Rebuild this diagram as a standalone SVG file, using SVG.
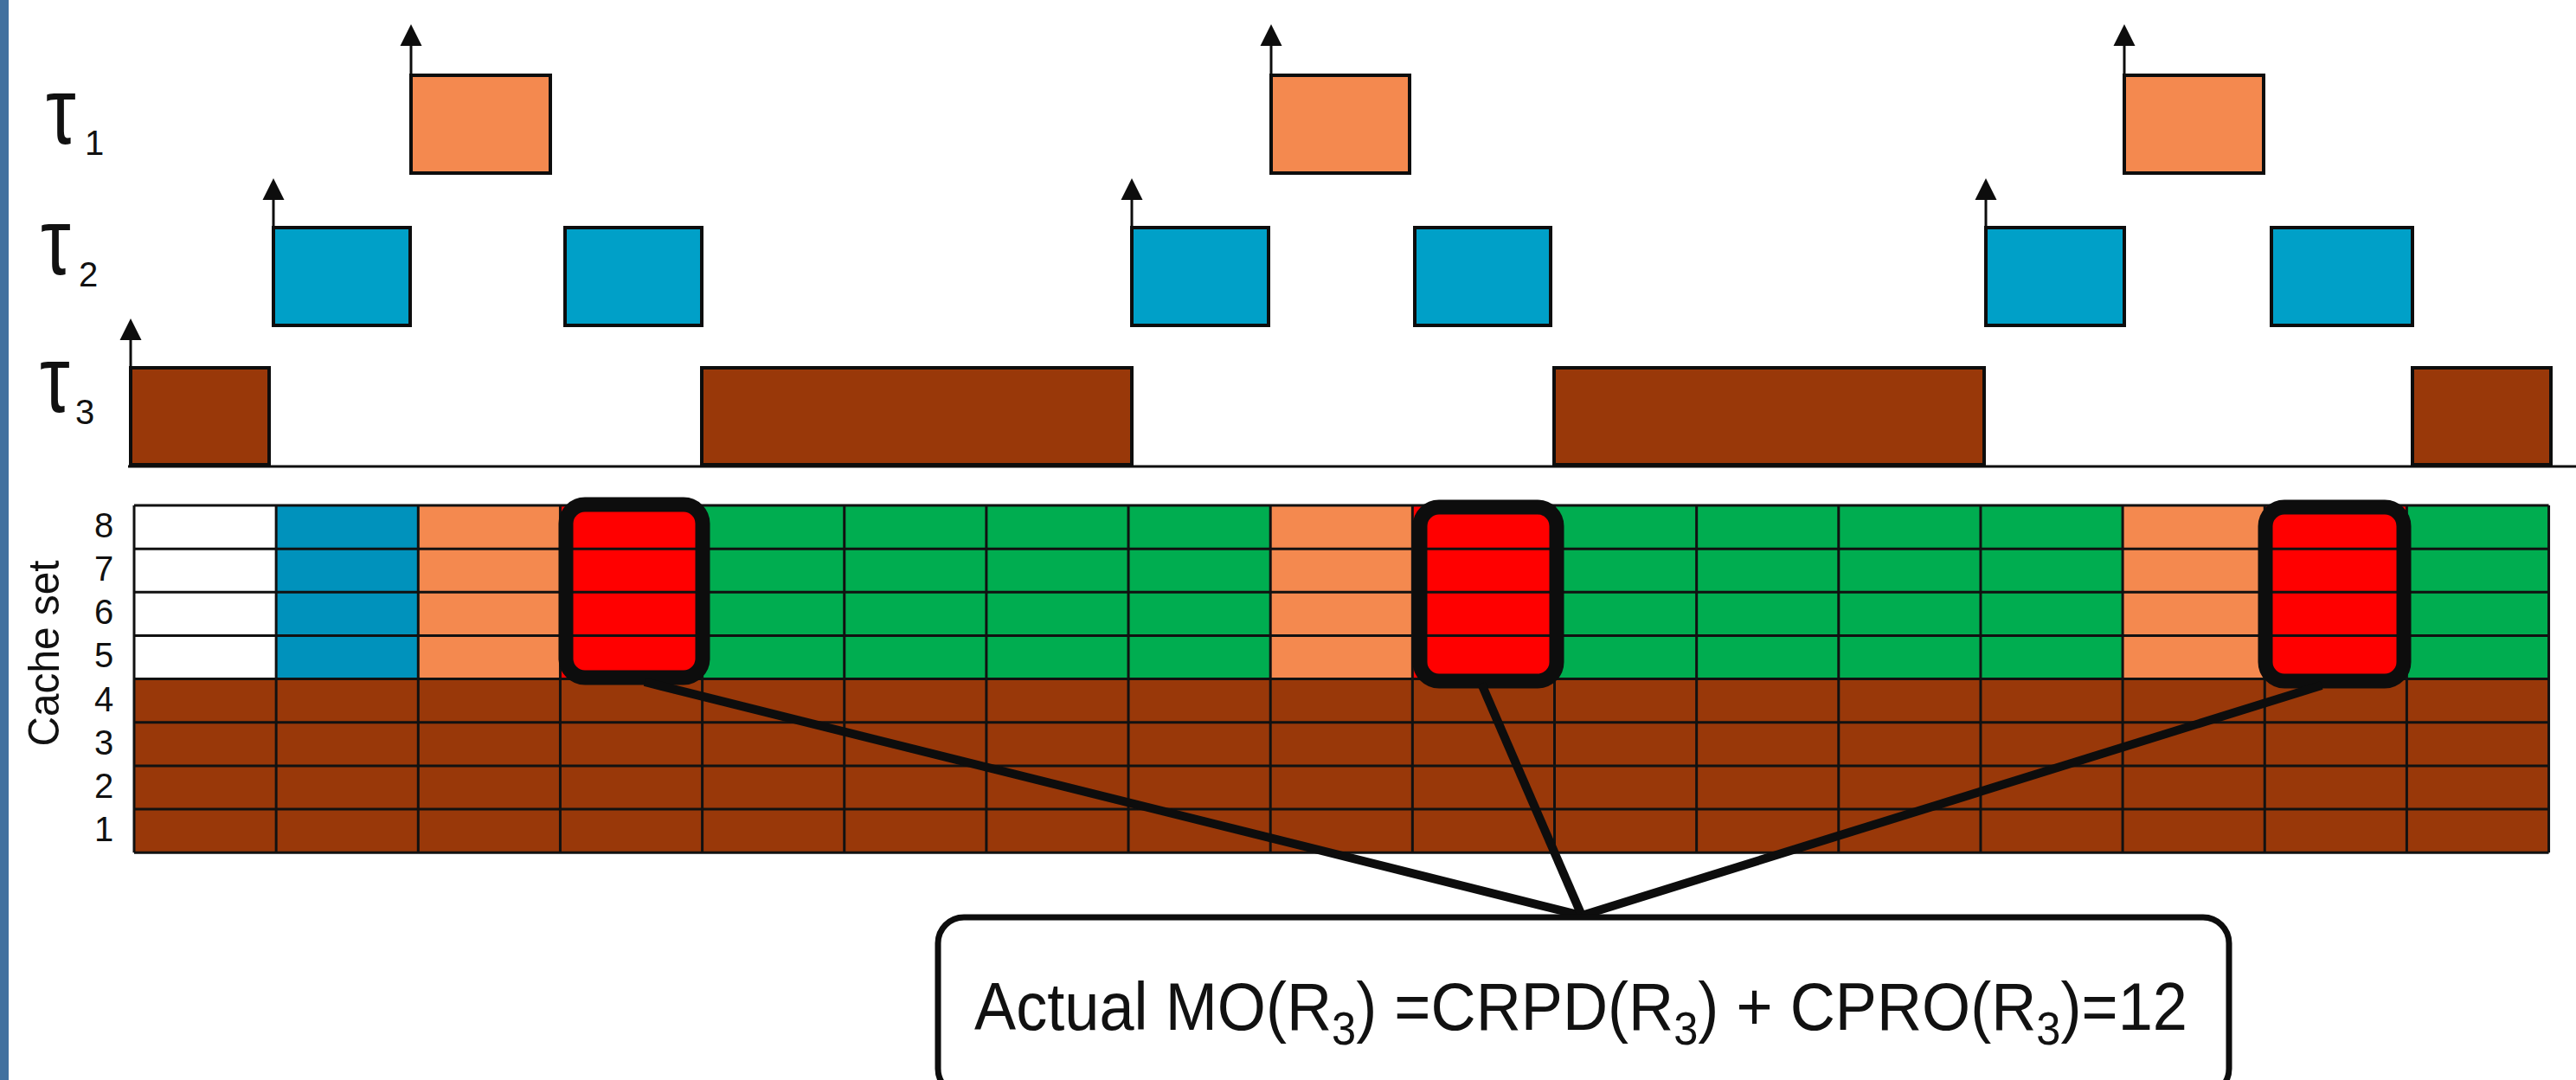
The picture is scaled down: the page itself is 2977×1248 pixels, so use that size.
<svg xmlns="http://www.w3.org/2000/svg" width="2977" height="1248" viewBox="0 0 2977 1248">
<style>
.lbl{font-family:"Liberation Sans",Arial,sans-serif;fill:#111}
.task{stroke:#0D0D0D;stroke-width:4}
.t1{fill:#F4894F}.t2{fill:#00A0C8}.t3{fill:#993809}
.rel{stroke:#0D0D0D;stroke-width:3}
.head{fill:#0D0D0D}
.gl{stroke:#111;stroke-width:3}
.hl{fill:none;stroke:#0D0D0D;stroke-width:17}
.con{stroke:#0D0D0D;stroke-width:10;fill:none}
</style>
<rect x="0" y="0" width="2977" height="1248" fill="#FFFFFF"/>
<rect x="0" y="0" width="10" height="1248" fill="#41709F"/>

<g id="task-labels" class="lbl">
  <g id="label-t1"><text transform="translate(53,166) scale(1.02,1.28)" font-size="86">τ</text><text x="98" y="179" font-size="40">1</text></g>
  <g id="label-t2"><text transform="translate(47,317) scale(1.02,1.28)" font-size="86">τ</text><text x="91" y="331" font-size="40">2</text></g>
  <g id="label-t3"><text transform="translate(46,476) scale(1.02,1.28)" font-size="86">τ</text><text x="87" y="490" font-size="40">3</text></g>
</g>

<g id="timeline">
  <line id="time-axis" x1="148" y1="539" x2="2977" y2="539" class="rel"/>
  <g id="tau3-jobs">
    <rect class="task t3" x="151" y="425" width="160" height="112"/>
    <rect class="task t3" x="811" y="425" width="497" height="112"/>
    <rect class="task t3" x="1796" y="425" width="497" height="112"/>
    <rect class="task t3" x="2788" y="425" width="160" height="112"/>
  </g>
  <g id="tau2-jobs">
    <rect class="task t2" x="316" y="263" width="158" height="113"/>
    <rect class="task t2" x="653" y="263" width="158" height="113"/>
    <rect class="task t2" x="1308" y="263" width="158" height="113"/>
    <rect class="task t2" x="1635" y="263" width="157" height="113"/>
    <rect class="task t2" x="2295" y="263" width="160" height="113"/>
    <rect class="task t2" x="2625" y="263" width="163" height="113"/>
  </g>
  <g id="tau1-jobs">
    <rect class="task t1" x="475" y="87" width="161" height="113"/>
    <rect class="task t1" x="1469" y="87" width="160" height="113"/>
    <rect class="task t1" x="2455" y="87" width="161" height="113"/>
  </g>
  <g id="releases">
    <line class="rel" x1="475" y1="87" x2="475" y2="50"/><polygon class="head" points="475,28 462.5,53 487.5,53"/>
    <line class="rel" x1="1469" y1="87" x2="1469" y2="50"/><polygon class="head" points="1469,28 1456.5,53 1481.5,53"/>
    <line class="rel" x1="2455" y1="87" x2="2455" y2="50"/><polygon class="head" points="2455,28 2442.5,53 2467.5,53"/>
    <line class="rel" x1="316" y1="263" x2="316" y2="228"/><polygon class="head" points="316,206 303.5,231 328.5,231"/>
    <line class="rel" x1="1308" y1="263" x2="1308" y2="228"/><polygon class="head" points="1308,206 1295.5,231 1320.5,231"/>
    <line class="rel" x1="2295" y1="263" x2="2295" y2="228"/><polygon class="head" points="2295,206 2282.5,231 2307.5,231"/>
    <line class="rel" x1="151" y1="425" x2="151" y2="390"/><polygon class="head" points="151,368 138.5,393 163.5,393"/>
  </g>
</g>

<g id="cache-axis" class="lbl">
  <text transform="translate(68,755) rotate(-90)" text-anchor="middle" font-size="50" textLength="215" lengthAdjust="spacingAndGlyphs">Cache set</text>
  <g font-size="40" text-anchor="middle">
    <text x="120" y="621">8</text>
    <text x="120" y="671">7</text>
    <text x="120" y="721">6</text>
    <text x="120" y="771">5</text>
    <text x="120" y="822">4</text>
    <text x="120" y="872">3</text>
    <text x="120" y="922">2</text>
    <text x="120" y="972">1</text>
  </g>
</g>

<g id="cache-grid">
  <rect x="155" y="584" width="164.15" height="200.6" fill="#FFFFFF"/>
  <rect x="319.15" y="584" width="164.15" height="200.6" fill="#0092BC"/>
  <rect x="483.3" y="584" width="164.15" height="200.6" fill="#F4894F"/>
  <rect x="647.45" y="584" width="164.15" height="200.6" fill="#FF0000"/>
  <rect x="811.6" y="584" width="656.6" height="200.6" fill="#00AD50"/>
  <rect x="1468.2" y="584" width="164.15" height="200.6" fill="#F4894F"/>
  <rect x="1632.35" y="584" width="164.15" height="200.6" fill="#FF0000"/>
  <rect x="1796.5" y="584" width="656.6" height="200.6" fill="#00AD50"/>
  <rect x="2453.1" y="584" width="164.15" height="200.6" fill="#F4894F"/>
  <rect x="2617.25" y="584" width="164.15" height="200.6" fill="#FF0000"/>
  <rect x="2781.4" y="584" width="164.15" height="200.6" fill="#00AD50"/>
  <rect x="155" y="784.6" width="2790.55" height="200.6" fill="#993809"/>
  <g class="gl">
    <line x1="155" y1="584" x2="2945.55" y2="584"/>
    <line x1="155" y1="634.15" x2="2945.55" y2="634.15"/>
    <line x1="155" y1="684.3" x2="2945.55" y2="684.3"/>
    <line x1="155" y1="734.45" x2="2945.55" y2="734.45"/>
    <line x1="155" y1="784.6" x2="2945.55" y2="784.6"/>
    <line x1="155" y1="834.75" x2="2945.55" y2="834.75"/>
    <line x1="155" y1="884.9" x2="2945.55" y2="884.9"/>
    <line x1="155" y1="935.05" x2="2945.55" y2="935.05"/>
    <line x1="155" y1="985.2" x2="2945.55" y2="985.2"/>
    <line x1="155" y1="584" x2="155" y2="985.2"/>
    <line x1="319.15" y1="584" x2="319.15" y2="985.2"/>
    <line x1="483.3" y1="584" x2="483.3" y2="985.2"/>
    <line x1="647.45" y1="584" x2="647.45" y2="985.2"/>
    <line x1="811.6" y1="584" x2="811.6" y2="985.2"/>
    <line x1="975.75" y1="584" x2="975.75" y2="985.2"/>
    <line x1="1139.9" y1="584" x2="1139.9" y2="985.2"/>
    <line x1="1304.05" y1="584" x2="1304.05" y2="985.2"/>
    <line x1="1468.2" y1="584" x2="1468.2" y2="985.2"/>
    <line x1="1632.35" y1="584" x2="1632.35" y2="985.2"/>
    <line x1="1796.5" y1="584" x2="1796.5" y2="985.2"/>
    <line x1="1960.65" y1="584" x2="1960.65" y2="985.2"/>
    <line x1="2124.8" y1="584" x2="2124.8" y2="985.2"/>
    <line x1="2288.95" y1="584" x2="2288.95" y2="985.2"/>
    <line x1="2453.1" y1="584" x2="2453.1" y2="985.2"/>
    <line x1="2617.25" y1="584" x2="2617.25" y2="985.2"/>
    <line x1="2781.4" y1="584" x2="2781.4" y2="985.2"/>
    <line x1="2945.55" y1="584" x2="2945.55" y2="985.2"/>
  </g>
</g>

<g id="highlights">
  <rect id="hl-1" class="hl" x="654" y="583" width="158" height="200" rx="22"/>
  <rect id="hl-2" class="hl" x="1641" y="586" width="158" height="201" rx="22"/>
  <rect id="hl-3" class="hl" x="2618" y="586" width="160" height="201" rx="22"/>
</g>

<g id="connectors">
  <line class="con" x1="745" y1="788" x2="1828" y2="1058"/>
  <line class="con" x1="1712" y1="790" x2="1828" y2="1058"/>
  <line class="con" x1="2683" y1="792" x2="1828" y2="1058"/>
</g>

<g id="result-box">
  <rect x="1084" y="1060" width="1492" height="205" rx="30" fill="#FFFFFF" stroke="#0D0D0D" stroke-width="7"/>
  <text class="lbl" transform="translate(1126,1190) scale(0.9375,1)" font-size="77">Actual MO(R<tspan font-size="54" baseline-shift="-17">3</tspan>) =CRPD(R<tspan font-size="54" baseline-shift="-17">3</tspan>) + CPRO(R<tspan font-size="54" baseline-shift="-17">3</tspan>)=12</text>
</g>
</svg>
